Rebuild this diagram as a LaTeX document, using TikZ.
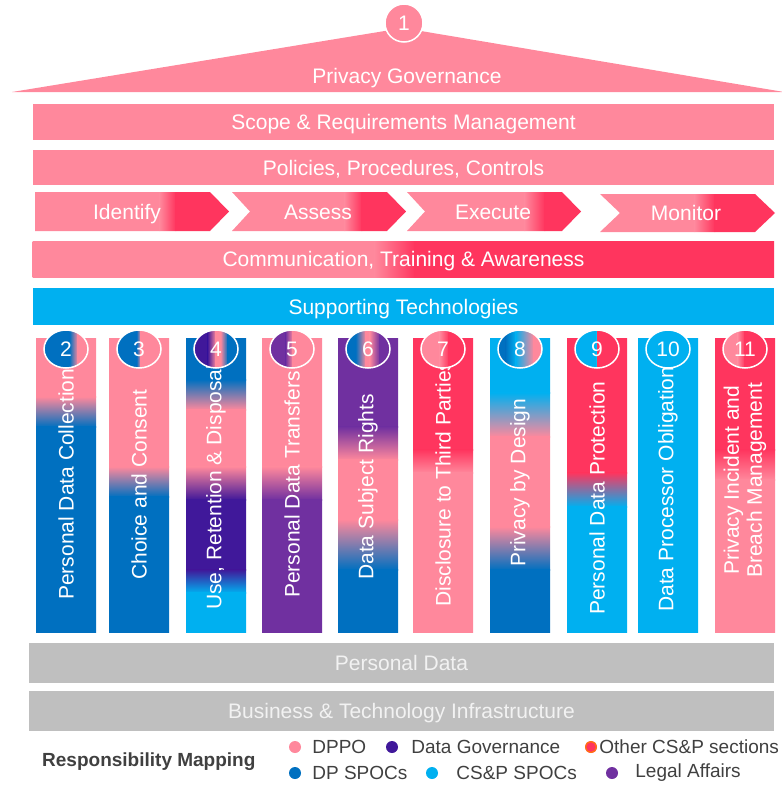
\documentclass[tikz,border=0pt]{standalone}
\usepackage{fontspec}
\setmainfont{Liberation Sans}
\usetikzlibrary{positioning}
\definecolor{cPink}{RGB}{255,136,156}
\definecolor{cRed}{RGB}{255,53,94}
\definecolor{cBlue}{RGB}{0,112,192}
\definecolor{cCyan}{RGB}{0,176,240}
\definecolor{cIndigo}{RGB}{64,24,154}
\definecolor{cPurple}{RGB}{112,48,160}
\definecolor{cGrey}{RGB}{191,191,191}
\definecolor{cText}{RGB}{64,64,64}
\newcommand{\bigtxt}{\fontsize{21}{23}\selectfont}
\newcommand{\legtxt}{\fontsize{19}{22}\selectfont}
% colour bands: y range, first stop, then a list of x/colour stops
\newcommand{\hbands}[5]{%
	\edef\bandlist{#5}%
	\foreach \xx/\cc [remember=\xx as \xp (initially #3), remember=\cc as \cp (initially #4)] in \bandlist
		\shade[left color=\cp, right color=\cc] (\xp-0.4,#1) rectangle (\xx,#2);
}
% same, running down: x range, first stop, then y/colour stops
\newcommand{\vbands}[5]{%
	\edef\bandlist{#5}%
	\foreach \yy/\cc [remember=\yy as \yp (initially #3), remember=\cc as \cp (initially #4)] in \bandlist
		\shade[top color=\cp, bottom color=\cc] (#1,\yp-0.4) rectangle (#2,\yy);
}
\tikzset{
	lbl/.style     ={text=white, font=\bigtxt, text height=15pt, text depth=0pt},
	band/.style    ={rectangle, minimum width=741pt, minimum height=36pt, inner sep=0pt, lbl},
	baseband/.style={band, minimum width=745pt, minimum height=40pt, fill=cGrey, text=white!95!black},
	numring/.style ={draw=white, line width=1.5pt},
	pillartxt/.style={rotate=90, anchor=west, inner sep=0pt, text=white, font=\bigtxt, align=center},
	dot/.style     ={circle, minimum size=12pt, inner sep=0pt},
	legitem/.style ={inner sep=0pt, text=cText, font=\legtxt},
}
\begin{document}
\begin{tikzpicture}[x=1pt, y=-1pt]
	\useasboundingbox (0,0) rectangle (782,785);

	% roof
	\fill[cPink] (12,92) -- (403,28) -- (784,92) -- cycle;
	\node[circle, minimum size=38pt, inner sep=0pt, fill=cPink, numring, lbl] (n1) at (404,23) {1};
	\node[lbl] (gov) at (407,76) {Privacy Governance};

	\node[band, fill=cPink] (scope) at (403.5,122) {Scope \& Requirements Management};
	\node[band, fill=cPink, minimum height=35pt] (policies) at (403.5,167.5) {Policies, Procedures, Controls};

	% process arrows
	\foreach \xl/\xn/\xb/\xt/\ta/\tb/\ya/\yb/\xc/\lab in {
		35/35/210/229/160/176/192/231/127/Identify,
		232/250/387/406/345/362/192/231/318/Assess,
		407/425/562/581/525/545/192/231/493/Execute,
		600/620/755/775/695/715/194/232/686/Monitor} {
		\begin{scope}
			\clip (\xl,\ya) -- (\xb,\ya) -- (\xt,{(\ya+\yb)/2}) -- (\xb,\yb) -- (\xl,\yb) -- (\xn,{(\ya+\yb)/2}) -- cycle;
			\hbands{\ya}{\yb}{\xl}{cPink}{\ta/cPink,\tb/cRed,\xt/cRed}
		\end{scope}
		\node[lbl] (ph-\lab) at (\xc,{(\ya+\yb)/2}) {\lab};
	}

	\hbands{241}{277}{33}{cPink}{375/cPink,415/cRed,774/cRed}
	\node[band] (comms) at (403.5,259) {Communication, Training \& Awareness};
	\node[band, fill=cCyan, minimum height=37pt] (tech) at (403.5,306.5) {Supporting Technologies};

	% pillars
	\foreach \n/\x/\ct/\vst/\ca/\hst/\yl/\lab in {
		2/36/cPink/{397/cPink,427/cBlue,632/cBlue}/cBlue/{4/cBlue,12/cPink,22/cPink}/600/{Personal Data Collection},
		3/109/cPink/{467/cPink,497/cBlue,632/cBlue}/cBlue/{-2/cBlue,2/cPink,22/cPink}/580/{Choice and Consent},
		4/186/cBlue/{380/cBlue,410/cPink,467/cPink,500/cIndigo,570/cIndigo,593/cCyan,632/cCyan}/cIndigo/{-8/cIndigo,0/cPink,5/cPink,12/cBlue,22/cBlue}/610/{Use, Retention \& Disposal},
		5/262/cPink/{467/cPink,500/cPurple,632/cPurple}/cPurple/{-6/cPurple,1/cPink,22/cPink}/598/{Personal Data Transfers},
		6/338/cPurple/{427/cPurple,460/cPink,520/cPink,570/cBlue,632/cBlue}/cBlue/{-12/cBlue,-2/cPink,2/cPink,12/cPurple,22/cPurple}/580/{Data Subject Rights},
		7/413/cRed/{450/cRed,473/cPink,632/cPink}/cPink/{-3/cPink,6/cRed,22/cRed}/607/{Disclosure to Third Parties},
		8/490/cCyan/{393/cCyan,437/cPink,527/cPink,570/cBlue,632/cBlue}/cBlue/{-14/cBlue,-4/cCyan,14/cPink,22/cPink}/567/{Privacy by Design},
		9/567/cRed/{473/cRed,507/cCyan,632/cCyan}/cCyan/{0/cCyan,1/cRed,22/cRed}/615/{Personal Data Protection},
		10/638/cCyan/{632/cCyan}/cCyan/{22/cCyan}/612/{Data Processor Obligations},
		11/715/cRed/{450/cRed,480/cPink,632/cPink}/cPink/{-7/cPink,0/cRed,22/cRed}/578/{Privacy Incident and\\Breach Management}} {
		\begin{scope}
			\clip (\x,338) rectangle (\x+60,632);
			\vbands{\x}{\x+60}{338}{\ct}{\vst}
			\node[pillartxt] (lab\n) at (\x+30,\yl) {\lab};
		\end{scope}
		\begin{scope}[shift={(\x+30,349)}]
			\begin{scope}
				\clip (0,0) ellipse [x radius=22pt, y radius=19pt];
				\hbands{-19}{19}{-22}{\ca}{\hst}
			\end{scope}
			\draw[numring] (0,0) ellipse [x radius=22pt, y radius=19pt];
			\node[lbl] (n\n) at (0,0) {\n};
		\end{scope}
	}

	\node[baseband] (pdata) at (401.5,663) {Personal Data};
	\node[baseband] (infra) at (401.5,711) {Business \& Technology Infrastructure};

	% legend
	\node[legitem, font=\legtxt\bfseries, anchor=west] (legtitle) at (42,762) {Responsibility Mapping};
	\foreach \nm/\col/\xd/\yd/\gap/\txt in {
		dppo/cPink/295/747/11/DPPO,
		dgov/cIndigo/392/747/13/Data Governance,
		other/cRed/591/747/2/{Other CS\&P sections},
		dpspoc/cBlue/295/773/11/DP SPOCs,
		cspoc/cCyan/432/773/18/{CS\&P SPOCs},
		legal/cPurple/612/773/17/Legal Affairs} {
		\node[dot, fill=\col] (d-\nm) at (\xd,\yd) {};
		\node[legitem, right=\gap pt of d-\nm] (t-\nm) {\txt};
	}
	\draw[orange, line width=1pt] (d-other) circle (5.5pt);
\end{tikzpicture}
\end{document}
